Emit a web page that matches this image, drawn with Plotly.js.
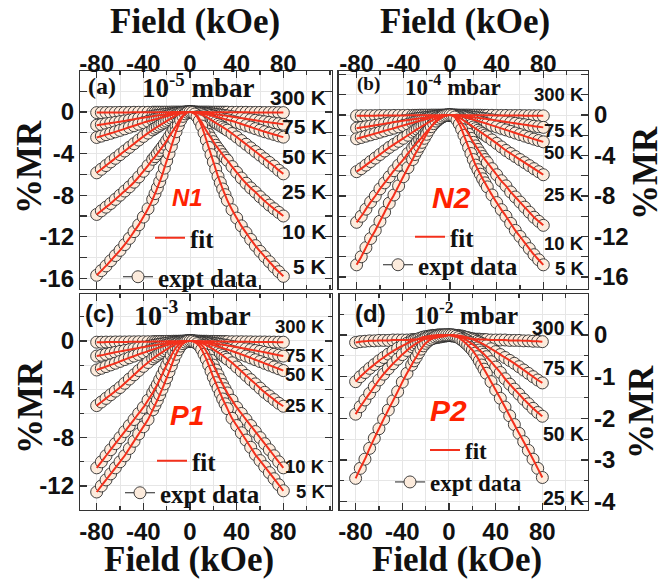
<!DOCTYPE html>
<html><head><meta charset="utf-8">
<script src="https://cdn.plot.ly/plotly-3.0.1.min.js"></script>
<style>html,body{margin:0;padding:0;background:#fff}#chart{width:668px;height:581px}</style>
</head><body><div id="chart"></div>
<script>
// ---------- data ----------
const FIELD = [-80,-76,-72,-68,-64,-60,-56,-52,-48,-44,-40,-36,-32,-30,-28,-26,-24,-22,-20,-18,-16,-14,-12,-10,-8,-6,-4,-2,0,2,4,6,8,10,12,14,16,18,20,22,24,26,28,30,32,36,40,44,48,52,56,60,64,68,72,76,80];

const X_TICKS = [-80,-40,0,40,80];
const X_TICK_TEXT = ['-80','-40','0','40','80'];
const X_MINOR = [-60,-20,20,60,100,120];
const Y_TICKS_AB = [-16,-12,-8,-4,0];
const Y_TICK_TEXT_AB = ['-16','-12','-8','-4','0'];
const Y_MINOR_AB = [-14,-10,-6,-2,2,4];
const Y_TICKS_C = [-12,-8,-4,0];
const Y_TICK_TEXT_C = ['-12','-8','-4','0'];
const Y_MINOR_C = [-10,-6,-2,2];
const Y_TICKS_D = [-4,-3,-2,-1,0];
const Y_TICK_TEXT_D = ['-4','-3','-2','-1','0'];
const Y_MINOR_D = [-3.5,-2.5,-1.5,-0.5,0.5];

const X_TITLE = 'Field (kOe)';
const Y_TITLE = '%MR';
const TEMPS_6 = ['300 K','75 K','50 K','25 K','10 K','5 K'];
const TEMPS_4 = ['300 K','75 K','50 K','25 K'];

// (a) N1, 1e-5 mbar
const N1_300K = [-0.06,-0.06,-0.05,-0.05,-0.05,-0.04,-0.04,-0.04,-0.03,-0.03,-0.03,-0.03,-0.02, -0.02,-0.02,-0.02,-0.02,-0.02,-0.02,-0.02,-0.01,-0.01,-0.01,-0.01,-0.01,-0.01,0,0, 0, 0,0,-0.01,-0.01,-0.01,-0.01,-0.01,-0.01,-0.02,-0.02,-0.02,-0.02,-0.02,-0.02,-0.02, -0.02,-0.03,-0.03,-0.03,-0.03,-0.04,-0.04,-0.04,-0.05,-0.05,-0.05,-0.06,-0.06];
const N1_75K = [-1.28,-1.21,-1.14,-1.07,-1.0,-0.93,-0.86,-0.78,-0.7,-0.62,-0.55,-0.48,-0.41, -0.37,-0.34,-0.31,-0.28,-0.25,-0.22,-0.19,-0.16,-0.13,-0.1,-0.07,-0.05,-0.03,-0.01,0, 0, 0,-0.01,-0.02,-0.04,-0.06,-0.08,-0.11,-0.14,-0.17,-0.2,-0.23,-0.26,-0.29,-0.32,-0.35, -0.38,-0.45,-0.52,-0.59,-0.66,-0.73,-0.8,-0.87,-0.94,-1.0,-1.06,-1.12,-1.18];
const N1_50K = [-2.45,-2.32,-2.18,-2.05,-1.91,-1.77,-1.62,-1.47,-1.32,-1.17,-1.02,-0.89,-0.77, -0.71,-0.65,-0.59,-0.53,-0.47,-0.41,-0.35,-0.29,-0.23,-0.17,-0.12,-0.08,-0.04,-0.02,0, 0, 0,-0.02,-0.04,-0.07,-0.11,-0.16,-0.21,-0.27,-0.33,-0.39,-0.45,-0.51,-0.57,-0.63,-0.69, -0.75,-0.87,-1.0,-1.15,-1.3,-1.45,-1.6,-1.75,-1.9,-2.03,-2.16,-2.3,-2.42];
const N1_25K = [-5.85,-5.5,-5.15,-4.8,-4.45,-4.1,-3.75,-3.4,-3.05,-2.7,-2.35,-2.03,-1.72, -1.57,-1.43,-1.29,-1.15,-1.01,-0.88,-0.74,-0.6,-0.47,-0.35,-0.24,-0.15,-0.08,-0.03,-0.01, 0, -0.01,-0.04,-0.09,-0.16,-0.25,-0.36,-0.48,-0.62,-0.76,-0.9,-1.04,-1.18,-1.32,-1.46,-1.6, -1.75,-2.07,-2.4,-2.75,-3.1,-3.45,-3.8,-4.15,-4.5,-4.85,-5.2,-5.6,-5.95];
const N1_10K = [-9.85,-9.5,-9.15,-8.8,-8.4,-8.0,-7.6,-7.2,-6.75,-6.25,-5.7,-5.15,-4.55, -4.3,-4.0,-3.7,-3.4,-3.1,-2.75,-2.4,-2.05,-1.7,-1.35,-0.95,-0.6,-0.33,-0.14,-0.04, 0, -0.04,-0.15,-0.35,-0.65,-1.0,-1.4,-1.8,-2.15,-2.5,-2.85,-3.2,-3.5,-3.8,-4.1,-4.4, -4.65,-5.25,-5.8,-6.35,-6.85,-7.3,-7.7,-8.15,-8.55,-8.95,-9.3,-9.65,-10.0];
const N1_5K = [-15.7,-15.25,-14.8,-14.3,-13.8,-13.3,-12.75,-12.15,-11.5,-10.85,-10.1,-9.3,-8.4, -7.85,-7.3,-6.7,-6.1,-5.4,-4.7,-4.0,-3.3,-2.6,-1.9,-1.3,-0.8,-0.42,-0.18,-0.04, 0, -0.05,-0.2,-0.45,-0.85,-1.35,-2.0,-2.7,-3.4,-4.1,-4.8,-5.5,-6.2,-6.8,-7.4,-7.95, -8.5,-9.4,-10.2,-10.95,-11.6,-12.25,-12.85,-13.4,-13.9,-14.4,-14.9,-15.35,-15.8];

// (b) N2, 1e-4 mbar
const N2_300K = [-0.08,-0.07,-0.07,-0.06,-0.06,-0.05,-0.05,-0.05,-0.04,-0.04,-0.04,-0.03,-0.03, -0.03,-0.03,-0.02,-0.02,-0.02,-0.02,-0.02,-0.01,-0.01,-0.01,-0.01,-0.01,0,0,0, 0, 0,0,0,-0.01,-0.01,-0.01,-0.01,-0.01,-0.02,-0.02,-0.02,-0.02,-0.02,-0.03,-0.03, -0.03,-0.03,-0.04,-0.04,-0.04,-0.05,-0.05,-0.05,-0.06,-0.06,-0.07,-0.07,-0.08];
const N2_75K = [-1.3,-1.23,-1.16,-1.09,-1.02,-0.94,-0.86,-0.78,-0.7,-0.63,-0.56,-0.49,-0.42, -0.39,-0.36,-0.33,-0.3,-0.27,-0.24,-0.21,-0.18,-0.15,-0.12,-0.09,-0.06,-0.04,-0.02,0, 0, 0,-0.01,-0.03,-0.05,-0.07,-0.1,-0.13,-0.16,-0.19,-0.22,-0.25,-0.28,-0.31,-0.34,-0.37, -0.4,-0.47,-0.54,-0.61,-0.68,-0.75,-0.82,-0.89,-0.96,-1.03,-1.1,-1.16,-1.22];
const N2_50K = [-2.35,-2.22,-2.09,-1.96,-1.83,-1.7,-1.56,-1.43,-1.3,-1.16,-1.03,-0.9,-0.77, -0.7,-0.64,-0.58,-0.52,-0.46,-0.4,-0.34,-0.28,-0.23,-0.18,-0.13,-0.09,-0.05,-0.03,-0.01, 0, -0.01,-0.03,-0.06,-0.1,-0.15,-0.2,-0.26,-0.32,-0.38,-0.45,-0.52,-0.59,-0.66,-0.73,-0.8, -0.87,-1.02,-1.17,-1.32,-1.47,-1.62,-1.78,-1.93,-2.08,-2.23,-2.38,-2.52,-2.65];
const N2_25K = [-5.6,-5.3,-4.95,-4.6,-4.25,-3.9,-3.55,-3.2,-2.9,-2.6,-2.3,-2.0,-1.7, -1.55,-1.4,-1.26,-1.12,-0.98,-0.84,-0.7,-0.57,-0.45,-0.34,-0.24,-0.15,-0.08,-0.03,-0.01, 0, -0.02,-0.07,-0.15,-0.26,-0.4,-0.55,-0.7,-0.86,-1.02,-1.18,-1.34,-1.5,-1.66,-1.82,-1.98, -2.14,-2.46,-2.8,-3.15,-3.5,-3.8,-4.1,-4.4,-4.7,-5.0,-5.3,-5.6,-5.9];
const N2_10K = [-10.6,-10.0,-9.3,-8.6,-8.0,-7.3,-6.7,-6.1,-5.5,-4.95,-4.4,-3.8,-3.25, -3.0,-2.7,-2.45,-2.2,-1.9,-1.65,-1.4,-1.15,-0.9,-0.68,-0.48,-0.3,-0.17,-0.07,-0.02, 0, -0.03,-0.12,-0.28,-0.5,-0.8,-1.15,-1.5,-1.9,-2.3,-2.7,-3.05,-3.4,-3.75,-4.1,-4.4, -4.7,-5.3,-5.9,-6.5,-7.0,-7.6,-8.1,-8.6,-9.1,-9.6,-10.1,-10.5,-10.9];
const N2_5K = [-14.8,-14.0,-13.1,-12.2,-11.4,-10.5,-9.6,-8.7,-7.9,-7.0,-6.1,-5.2,-4.4, -3.9,-3.5,-3.1,-2.7,-2.3,-1.9,-1.5,-1.15,-0.85,-0.6,-0.4,-0.25,-0.12,-0.05,-0.01, 0, -0.05,-0.2,-0.5,-0.9,-1.4,-2.0,-2.6,-3.2,-3.8,-4.4,-4.95,-5.4,-5.85,-6.3,-6.7, -7.1,-7.9,-8.65,-9.35,-10.0,-10.7,-11.4,-12.0,-12.6,-13.2,-13.8,-14.3,-14.8];

// (c) P1, 1e-3 mbar
const P1_300K = [-0.1,-0.1,-0.09,-0.09,-0.08,-0.08,-0.08,-0.07,-0.07,-0.06,-0.06,-0.06,-0.05, -0.05,-0.05,-0.04,-0.04,-0.04,-0.03,-0.03,-0.03,-0.02,-0.02,-0.02,-0.01,-0.01,0,0, 0, 0,0,-0.01,-0.01,-0.02,-0.02,-0.02,-0.03,-0.03,-0.03,-0.04,-0.04,-0.04,-0.05,-0.05, -0.05,-0.06,-0.06,-0.06,-0.07,-0.07,-0.08,-0.08,-0.08,-0.09,-0.09,-0.1,-0.1];
const P1_75K = [-1.25,-1.18,-1.1,-1.02,-0.94,-0.86,-0.79,-0.72,-0.65,-0.58,-0.51,-0.44,-0.37, -0.34,-0.31,-0.28,-0.25,-0.22,-0.19,-0.16,-0.13,-0.1,-0.08,-0.06,-0.04,-0.02,-0.01,0, 0, 0,-0.01,-0.02,-0.04,-0.06,-0.08,-0.1,-0.13,-0.16,-0.19,-0.22,-0.25,-0.28,-0.31,-0.34, -0.37,-0.44,-0.51,-0.58,-0.65,-0.72,-0.79,-0.86,-0.94,-1.02,-1.1,-1.18,-1.25];
const P1_50K = [-2.4,-2.26,-2.12,-1.98,-1.84,-1.69,-1.54,-1.39,-1.25,-1.11,-0.97,-0.84,-0.71, -0.65,-0.59,-0.53,-0.47,-0.41,-0.35,-0.29,-0.24,-0.19,-0.14,-0.1,-0.07,-0.04,-0.02,0, 0, 0,-0.02,-0.04,-0.07,-0.1,-0.14,-0.19,-0.24,-0.29,-0.35,-0.41,-0.47,-0.53,-0.59,-0.65, -0.71,-0.84,-0.97,-1.11,-1.25,-1.4,-1.55,-1.7,-1.85,-2.0,-2.15,-2.3,-2.45];
const P1_25K = [-5.35,-5.05,-4.75,-4.45,-4.15,-3.85,-3.5,-3.15,-2.8,-2.45,-2.1,-1.78,-1.47, -1.33,-1.19,-1.06,-0.94,-0.81,-0.69,-0.57,-0.45,-0.35,-0.25,-0.17,-0.1,-0.05,-0.02,-0.01, 0, -0.01,-0.02,-0.05,-0.1,-0.17,-0.25,-0.35,-0.45,-0.57,-0.7,-0.82,-0.95,-1.07,-1.2,-1.35, -1.5,-1.8,-2.15,-2.5,-2.85,-3.2,-3.55,-3.9,-4.25,-4.55,-4.85,-5.15,-5.4];
const P1_10K = [-10.5,-10.0,-9.5,-9.0,-8.5,-8.0,-7.5,-7.0,-6.5,-6.0,-5.5,-4.9,-4.3, -3.95,-3.6,-3.2,-2.8,-2.4,-2.0,-1.6,-1.2,-0.85,-0.55,-0.35,-0.2,-0.12,-0.05,-0.01, 0, -0.01,-0.05,-0.12,-0.2,-0.35,-0.55,-0.85,-1.2,-1.6,-2.0,-2.4,-2.8,-3.2,-3.6,-3.95, -4.3,-4.9,-5.5,-6.0,-6.5,-7.0,-7.5,-8.0,-8.5,-9.0,-9.5,-10.0,-10.5];
const P1_5K = [-12.5,-12.0,-11.5,-11.0,-10.5,-10.0,-9.5,-8.9,-8.3,-7.7,-7.1,-6.5,-5.7, -5.3,-4.9,-4.45,-4.0,-3.55,-3.05,-2.55,-2.05,-1.55,-1.1,-0.72,-0.42,-0.22,-0.1,-0.02, 0, -0.02,-0.1,-0.22,-0.4,-0.7,-1.1,-1.5,-2.0,-2.5,-3.0,-3.45,-3.9,-4.35,-4.8,-5.2, -5.6,-6.4,-7.0,-7.6,-8.2,-8.8,-9.4,-9.9,-10.4,-10.9,-11.4,-11.9,-12.4];

// (d) P2, 1e-2 mbar
const P2_300K = [-0.18,-0.16,-0.15,-0.14,-0.14,-0.13,-0.13,-0.13,-0.12,-0.12,-0.12,-0.12,-0.11, -0.11,-0.11,-0.1,-0.1,-0.1,-0.09,-0.09,-0.08,-0.08,-0.07,-0.06,-0.05,-0.04,-0.03,-0.02, 0, -0.02,-0.03,-0.04,-0.05,-0.06,-0.07,-0.08,-0.08,-0.09,-0.09,-0.1,-0.1,-0.1,-0.11,-0.11, -0.11,-0.12,-0.12,-0.12,-0.12,-0.13,-0.13,-0.13,-0.14,-0.14,-0.15,-0.15,-0.16];
const P2_75K = [-1.12,-1.0,-0.9,-0.8,-0.71,-0.62,-0.54,-0.46,-0.39,-0.32,-0.26,-0.2,-0.15, -0.13,-0.11,-0.09,-0.07,-0.05,-0.04,-0.03,-0.02,-0.01,-0.01,0,0,0,0,0, 0, 0,0,-0.01,-0.01,-0.02,-0.03,-0.05,-0.06,-0.08,-0.1,-0.12,-0.15,-0.17,-0.2,-0.23, -0.26,-0.33,-0.4,-0.47,-0.54,-0.61,-0.68,-0.76,-0.84,-0.92,-1.0,-1.08,-1.15];
const P2_50K = [-1.9,-1.72,-1.56,-1.4,-1.24,-1.08,-0.94,-0.81,-0.69,-0.58,-0.47,-0.37,-0.28, -0.24,-0.2,-0.17,-0.14,-0.11,-0.08,-0.06,-0.04,-0.03,-0.02,-0.01,0,0,0,0, 0, 0,-0.01,-0.02,-0.03,-0.05,-0.08,-0.11,-0.14,-0.18,-0.22,-0.26,-0.31,-0.36,-0.41,-0.46, -0.52,-0.64,-0.77,-0.9,-1.05,-1.18,-1.3,-1.42,-1.54,-1.65,-1.76,-1.86,-1.95];
const P2_25K = [-3.44,-3.2,-2.98,-2.72,-2.48,-2.25,-2.02,-1.8,-1.58,-1.36,-1.13,-0.92,-0.72, -0.62,-0.53,-0.43,-0.34,-0.26,-0.2,-0.15,-0.11,-0.08,-0.05,-0.03,-0.02,-0.01,0,0, 0, 0,-0.01,-0.03,-0.06,-0.1,-0.14,-0.19,-0.24,-0.3,-0.36,-0.44,-0.52,-0.62,-0.72,-0.82, -0.92,-1.12,-1.32,-1.52,-1.73,-1.94,-2.15,-2.36,-2.56,-2.77,-2.98,-3.2,-3.42];

// ---------- styling ----------
const SERIF = 'Liberation Serif, Times New Roman, serif';
const SANS = 'Liberation Sans, Arial, sans-serif';
const RED = '#f3301c';
const GRID = '#e6e6e6';
const FRAME = '#333333';

const panels = [
  {xa:'x',  ya:'y',  series:[N1_300K,N1_75K,N1_50K,N1_25K,N1_10K,N1_5K], temps:TEMPS_6, legFit:'legend',  legExp:'legend2'},
  {xa:'x2', ya:'y2', series:[N2_300K,N2_75K,N2_50K,N2_25K,N2_10K,N2_5K], temps:TEMPS_6, legFit:'legend3', legExp:'legend4'},
  {xa:'x3', ya:'y3', series:[P1_300K,P1_75K,P1_50K,P1_25K,P1_10K,P1_5K], temps:TEMPS_6, legFit:'legend5', legExp:'legend6'},
  {xa:'x4', ya:'y4', series:[P2_300K,P2_75K,P2_50K,P2_25K], temps:TEMPS_4, legFit:'legend7', legExp:'legend8'}
];

const traces = [];
panels.forEach(p => {
  p.series.forEach((vals, i) => {
    const last = i === p.series.length - 1;
    traces.push({
      type:'scatter', mode:'lines+markers', x:FIELD, y:vals, xaxis:p.xa, yaxis:p.ya,
      name:'expt data', legend:p.legExp, showlegend:last, legendrank:2,
      line:{color:'#222', width:1},
      marker:{symbol:'circle', size:12, color:'#fcebdc', line:{color:'#2e2e2e', width:0.9}},
      hoverinfo:'skip'
    });
  });
  p.series.forEach((vals, i) => {
    const last = i === p.series.length - 1;
    traces.push({
      type:'scatter', mode:'lines', x:FIELD, y:vals, xaxis:p.xa, yaxis:p.ya,
      name:'fit', legend:p.legFit, showlegend:last, legendrank:1,
      line:{color:RED, width:2, shape:'spline', smoothing:0.6},
      hoverinfo:'skip'
    });
  });
});
// empty traces that register the label-only top axes (they draw nothing)
traces.push({type:'scatter', mode:'lines', x:[], y:[], xaxis:'x5', yaxis:'y', showlegend:false, hoverinfo:'skip'});
traces.push({type:'scatter', mode:'lines', x:[], y:[], xaxis:'x6', yaxis:'y2', showlegend:false, hoverinfo:'skip'});

const tickFont = {family:SANS, size:24, weight:'bold', color:'#111'};

function xAxis(domain, anchor, side, range, showLabels){
  return {
    domain, anchor, side, range,
    tickmode:'array', tickvals:X_TICKS, ticktext:X_TICK_TEXT, showticklabels:showLabels,
    ticks:'inside', ticklen:7, tickwidth:1.2, tickcolor:FRAME,
    minor:{tickmode:'array', tickvals:X_MINOR, ticks:'inside', ticklen:4, tickcolor:FRAME, showgrid:true, gridcolor:GRID, gridwidth:1},
    showline:true, mirror:'allticks', linecolor:FRAME, linewidth:1.2,
    showgrid:true, gridcolor:GRID, zeroline:false,
    tickfont:tickFont
  };
}
// label-only axis used to seat the top tick labels closer to the frame
function xLabelAxis(over, range, posPaper){
  return {
    overlaying:over, anchor:'free', position:posPaper, side:'top', range,
    tickmode:'array', tickvals:X_TICKS, ticktext:X_TICK_TEXT, showticklabels:true,
    ticks:'', showline:false, showgrid:false, zeroline:false,
    tickfont:tickFont
  };
}
function yAxis(domain, anchor, side, range, tv, tt, minor){
  return {
    domain, anchor, side, range,
    tickmode:'array', tickvals:tv, ticktext:tt,
    ticks:'inside', ticklen:7, tickwidth:1.2, tickcolor:FRAME,
    minor:{tickmode:'array', tickvals:minor, ticks:'inside', ticklen:4, tickcolor:FRAME, showgrid:true, gridcolor:GRID, gridwidth:1},
    showline:true, mirror:'allticks', linecolor:FRAME, linewidth:1.2,
    showgrid:true, gridcolor:GRID, zeroline:false,
    tickfont:tickFont
  };
}

const W = 668, H = 581;
const px = v => v / W;
const py = v => 1 - v / H;

const DOM_X_L = [px(80), px(332)];
const DOM_X_R_TOP = [px(338.5), px(588)];
const DOM_X_R_BOT = [px(339.5), px(588)];
const DOM_Y_TOP = [py(288.5), py(71)];
const DOM_Y_BOT = [py(510), py(294)];
const RANGE_A = [-94.3, 121.7];
const RANGE_B = [-95.5, 118.3];

const annotations = [];
function ann(text, x, y, font, extra){
  annotations.push(Object.assign({text, x, y, xref:'paper', yref:'paper', xanchor:'center', yanchor:'middle', showarrow:false, font}, extra||{}));
}
const serifB = s => ({family:SERIF, size:s, weight:'bold', color:'#111'});
const sansB = s => ({family:SANS, size:s, weight:'bold', color:'#111'});
const redI = s => ({family:SANS, size:s, weight:'bold', style:'italic', color:'#ff2200'});

// axis titles
ann(X_TITLE, px(195), py(22), serifB(35));
ann(X_TITLE, px(465), py(22), serifB(35));
ann(X_TITLE, px(189), 0, serifB(35), {yanchor:'bottom'});
ann(X_TITLE, px(457), 0, serifB(35), {yanchor:'bottom'});
ann(Y_TITLE, px(30), py(167), serifB(35), {textangle:-90});
ann(Y_TITLE, px(30), py(407), serifB(35), {textangle:-90});
ann(Y_TITLE, px(645), py(173), serifB(35), {textangle:-90});
ann(Y_TITLE, px(641), py(412), serifB(35), {textangle:-90});

// panel tags and pressures
ann('(a)', px(102), py(86), serifB(24));
ann('10<sup>-5</sup> mbar', px(198), py(86), serifB(27));
ann('(b)', px(368), py(84), serifB(19));
ann('10<sup>-4</sup> mbar', px(453), py(86), serifB(23));
ann('(c)', px(99), py(313), sansB(24));
ann('10<sup>-3</sup> mbar', px(192), py(313), serifB(28));
ann('(d)', px(370), py(313), sansB(24));
ann('10<sup>-2</sup> mbar', px(466), py(313), serifB(25));

ann('N1', px(187), py(197), redI(24));
ann('N2', px(451), py(197), redI(30));
ann('P1', px(187), py(415), redI(28));
ann('P2', px(448), py(410), redI(30));

// temperature labels (anchored to each panel's y scale)
const TEMP_LABEL_POS = [
  {xr:'x domain',  yr:'y',  x:0.986, ys:[1.35,-1.41,-4.3,-7.66,-11.5,-14.9], size:21},
  {xr:'x2 domain', yr:'y2', x:0.99,  ys:[2.07,-1.5,-3.72,-7.9,-12.74,-15.2], size:18.5},
  {xr:'x3 domain', yr:'y3', x:0.98,  ys:[1.2,-1.2,-2.78,-5.3,-10.4,-12.47], size:18.5},
  {xr:'x4 domain', yr:'y4', x:0.992, ys:[0.18,-0.78,-2.38,-3.9], size:19.5}
];
panels.forEach((p, k) => {
  const L = TEMP_LABEL_POS[k];
  p.temps.forEach((t, i) => {
    annotations.push({text:t, xref:L.xr, yref:L.yr, x:L.x, y:L.ys[i], xanchor:'right', yanchor:'middle',
      showarrow:false, font:sansB(L.size)});
  });
});

function leg(xp, yp, size){
  return {x:px(xp), y:py(yp), xanchor:'left', yanchor:'middle', bgcolor:'rgba(0,0,0,0)', borderwidth:0,
    font:serifB(size), tracegroupgap:0};
}

const layout = {
  width:W, height:H,
  margin:{l:0, r:0, t:0, b:0, pad:0},
  paper_bgcolor:'#fff', plot_bgcolor:'#fff',
  showlegend:true,
  xaxis:  xAxis(DOM_X_L, 'y', 'top', RANGE_A, false),
  yaxis:  yAxis(DOM_Y_TOP, 'x', 'left', [-16.97, 3.94], Y_TICKS_AB, Y_TICK_TEXT_AB, Y_MINOR_AB),
  xaxis2: xAxis(DOM_X_R_TOP, 'y2', 'top', RANGE_B, false),
  yaxis2: yAxis(DOM_Y_TOP, 'x2', 'right', [-17.14, 4.35], Y_TICKS_AB, Y_TICK_TEXT_AB, Y_MINOR_AB),
  xaxis3: xAxis(DOM_X_L, 'y3', 'bottom', RANGE_A, true),
  yaxis3: yAxis(DOM_Y_BOT, 'x3', 'left', [-13.99, 3.89], Y_TICKS_C, Y_TICK_TEXT_C, Y_MINOR_C),
  xaxis4: xAxis(DOM_X_R_BOT, 'y4', 'bottom', [-93.8, 119.1], true),
  yaxis4: yAxis(DOM_Y_BOT, 'x4', 'right', [-4.2, 0.984], Y_TICKS_D, Y_TICK_TEXT_D, Y_MINOR_D),
  xaxis5: xLabelAxis('x', RANGE_A, py(77)),
  xaxis6: xLabelAxis('x2', RANGE_B, py(77)),
  legend:  leg(150, 238, 25),
  legend2: leg(118, 277, 25),
  legend3: leg(410, 237, 25),
  legend4: leg(378, 265, 25),
  legend5: leg(152, 461, 25),
  legend6: leg(120, 493, 25),
  legend7: leg(425, 450, 23),
  legend8: leg(390, 482, 23),
  annotations
};

Plotly.newPlot('chart', traces, layout, {staticPlot:true, displayModeBar:false});
</script>
</body></html>
